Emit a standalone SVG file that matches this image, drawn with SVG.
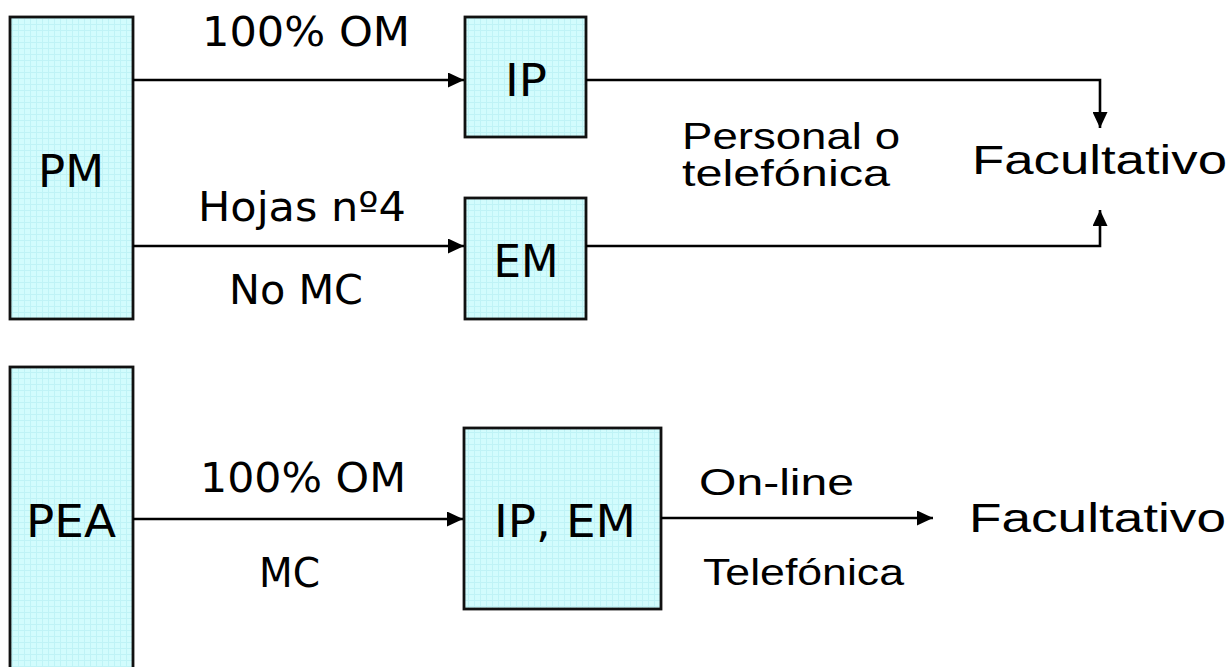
<svg xmlns="http://www.w3.org/2000/svg" width="1231" height="667" viewBox="0 0 1231 667">
  <defs>
    <pattern id="grid" width="6" height="6" patternUnits="userSpaceOnUse">
      <rect width="6" height="6" fill="#d2fcfd"/>
      <path d="M0 0.5H6M0.5 0V6" stroke="#bff3f6" stroke-width="1"/>
    </pattern>
    <marker id="arr" markerWidth="16" markerHeight="15" refX="16" refY="7.5" orient="auto" markerUnits="userSpaceOnUse">
      <path d="M0 0L16 7.5L0 15Z" fill="#000"/>
    </marker>
  </defs>
  <style>
    .box{fill:url(#grid);stroke:#111;stroke-width:2.8}
    .big{font-family:"DejaVu Sans",sans-serif;font-size:44px;fill:#000}
    .lbl{font-family:"DejaVu Sans",sans-serif;font-size:40px;fill:#000}
    .alt{font-family:"Liberation Sans",Arial,sans-serif;font-size:36px;fill:#000}
    .fac{font-family:"Liberation Sans",Arial,sans-serif;font-size:40px;fill:#000}
    .ln{fill:none;stroke:#000;stroke-width:2.6}
  </style>
  <rect width="1231" height="667" fill="#fff"/>

  <g id="node-pm">
    <rect class="box" x="10" y="17" width="123" height="302"/>
    <text class="big" x="71" y="187" text-anchor="middle" textLength="66" lengthAdjust="spacingAndGlyphs">PM</text>
  </g>
  <g id="node-ip">
    <rect class="box" x="465" y="17" width="121" height="120"/>
    <text class="big" x="526" y="96" text-anchor="middle" textLength="42" lengthAdjust="spacingAndGlyphs">IP</text>
  </g>
  <g id="node-em">
    <rect class="box" x="465" y="198" width="121" height="121"/>
    <text class="big" x="526" y="277" text-anchor="middle" textLength="65" lengthAdjust="spacingAndGlyphs">EM</text>
  </g>
  <g id="node-fac1">
    <text class="fac" x="972" y="174" textLength="255" lengthAdjust="spacingAndGlyphs">Facultativo</text>
  </g>

  <g id="node-pea">
    <rect class="box" x="10" y="367" width="123" height="310"/>
    <text class="big" x="71" y="537" text-anchor="middle" textLength="90" lengthAdjust="spacingAndGlyphs">PEA</text>
  </g>
  <g id="node-ipem">
    <rect class="box" x="464" y="428" width="197" height="181"/>
    <text class="big" x="565" y="537" text-anchor="middle" textLength="142" lengthAdjust="spacingAndGlyphs">IP, EM</text>
  </g>
  <g id="node-fac2">
    <text class="fac" x="969" y="532" textLength="257" lengthAdjust="spacingAndGlyphs">Facultativo</text>
  </g>

  <g id="connectors">
    <line class="ln" x1="133" y1="80" x2="464" y2="80" marker-end="url(#arr)"/>
    <line class="ln" x1="133" y1="246" x2="464" y2="246" marker-end="url(#arr)"/>
    <polyline class="ln" points="586,80 1100,80 1100,128" marker-end="url(#arr)"/>
    <polyline class="ln" points="586,246 1100,246 1100,210" marker-end="url(#arr)"/>
    <line class="ln" x1="133" y1="519" x2="463" y2="519" marker-end="url(#arr)"/>
    <line class="ln" x1="661" y1="518" x2="933" y2="518" marker-end="url(#arr)"/>
  </g>

  <g id="labels">
    <text class="lbl" x="202" y="46" textLength="208" lengthAdjust="spacingAndGlyphs">100% OM</text>
    <text class="lbl" x="198" y="221" textLength="208" lengthAdjust="spacingAndGlyphs">Hojas nº4</text>
    <text class="lbl" x="229" y="304" textLength="134" lengthAdjust="spacingAndGlyphs">No MC</text>
    <text class="alt" x="682" y="149" textLength="218" lengthAdjust="spacingAndGlyphs">Personal o</text>
    <text class="alt" x="682" y="186" textLength="208" lengthAdjust="spacingAndGlyphs">telefónica</text>
    <text class="lbl" x="200" y="492" textLength="206" lengthAdjust="spacingAndGlyphs">100% OM</text>
    <text class="lbl" x="259" y="587" textLength="61" lengthAdjust="spacingAndGlyphs">MC</text>
    <text class="alt" x="699" y="495" textLength="155" lengthAdjust="spacingAndGlyphs">On-line</text>
    <text class="alt" x="703" y="585" textLength="201" lengthAdjust="spacingAndGlyphs">Telefónica</text>
  </g>
</svg>
